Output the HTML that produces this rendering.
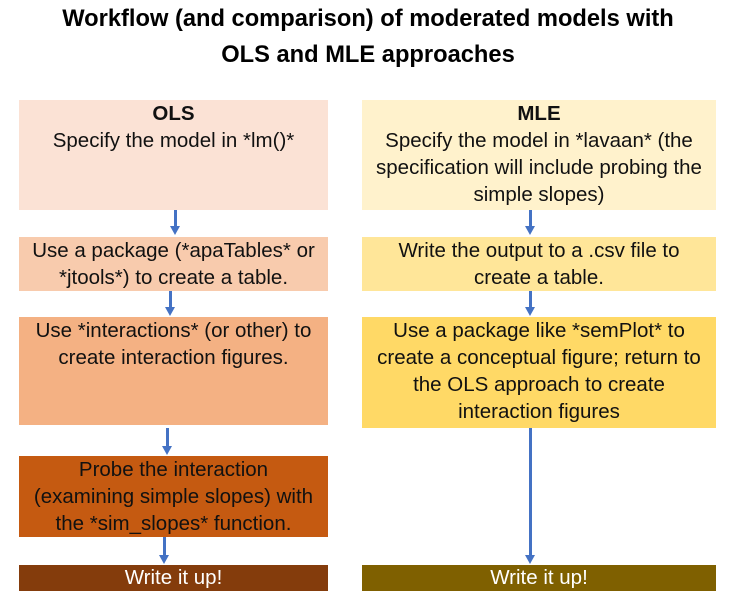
<!DOCTYPE html>
<html><head><meta charset="utf-8"><style>
body{margin:0;width:736px;height:612px;background:#fff;position:relative;font-family:"Liberation Sans",sans-serif;overflow:hidden}
.t{position:absolute;left:0;width:736px;text-align:center;font-weight:bold;font-size:23.7px;color:#000}
.b{position:absolute;text-align:center;font-size:20.5px;line-height:27px;color:#111;box-sizing:border-box;padding-top:0px;white-space:nowrap}
.a{position:absolute;width:3px;background:#4472c4}
.h{position:absolute;width:0;height:0;border-left:5px solid transparent;border-right:5px solid transparent;border-top:9px solid #4472c4}
</style></head><body>
<div class="t" style="top:6px">Workflow (and comparison) of moderated models with</div>
<div class="t" style="top:42px">OLS and MLE approaches</div>

<div class="b" style="left:19px;top:100px;width:309px;height:110px;background:#fbe2d5"><b>OLS</b><br>Specify the model in *lm()*</div>
<div class="b" style="left:19px;top:237px;width:309px;height:54px;background:#f8cbad">Use a package (*apaTables* or<br>*jtools*) to create a table.</div>
<div class="b" style="left:19px;top:317px;width:309px;height:108px;background:#f4b183">Use *interactions* (or other) to<br>create interaction figures.</div>
<div class="b" style="left:19px;top:456px;width:309px;height:81px;background:#c55a11">Probe the interaction<br>(examining simple slopes) with<br>the *sim_slopes* function.</div>
<div class="b" style="left:19px;top:565px;width:309px;height:26px;background:#843c0c;color:#fff;line-height:26px">Write it up!</div>

<div class="b" style="left:362px;top:100px;width:354px;height:110px;background:#fff2cc"><b>MLE</b><br>Specify the model in *lavaan* (the<br>specification will include probing the<br>simple slopes)</div>
<div class="b" style="left:362px;top:237px;width:354px;height:54px;background:#ffe699">Write the output to a .csv file to<br>create a table.</div>
<div class="b" style="left:362px;top:317px;width:354px;height:111px;background:#ffd966">Use a package like *semPlot* to<br>create a conceptual figure; return to<br>the OLS approach to create<br>interaction figures</div>
<div class="b" style="left:362px;top:565px;width:354px;height:26px;background:#7f6000;color:#fff;line-height:26px">Write it up!</div>

<div class="a" style="left:174px;top:210px;height:17px"></div><div class="h" style="left:170px;top:226px"></div>
<div class="a" style="left:169px;top:291px;height:17px"></div><div class="h" style="left:165px;top:307px"></div>
<div class="a" style="left:166px;top:428px;height:19px"></div><div class="h" style="left:162px;top:446px"></div>
<div class="a" style="left:163px;top:537px;height:19px"></div><div class="h" style="left:159px;top:555px"></div>

<div class="a" style="left:529px;top:210px;height:17px"></div><div class="h" style="left:525px;top:226px"></div>
<div class="a" style="left:529px;top:291px;height:17px"></div><div class="h" style="left:525px;top:307px"></div>
<div class="a" style="left:529px;top:428px;height:128px"></div><div class="h" style="left:525px;top:555px"></div>
</body></html>
